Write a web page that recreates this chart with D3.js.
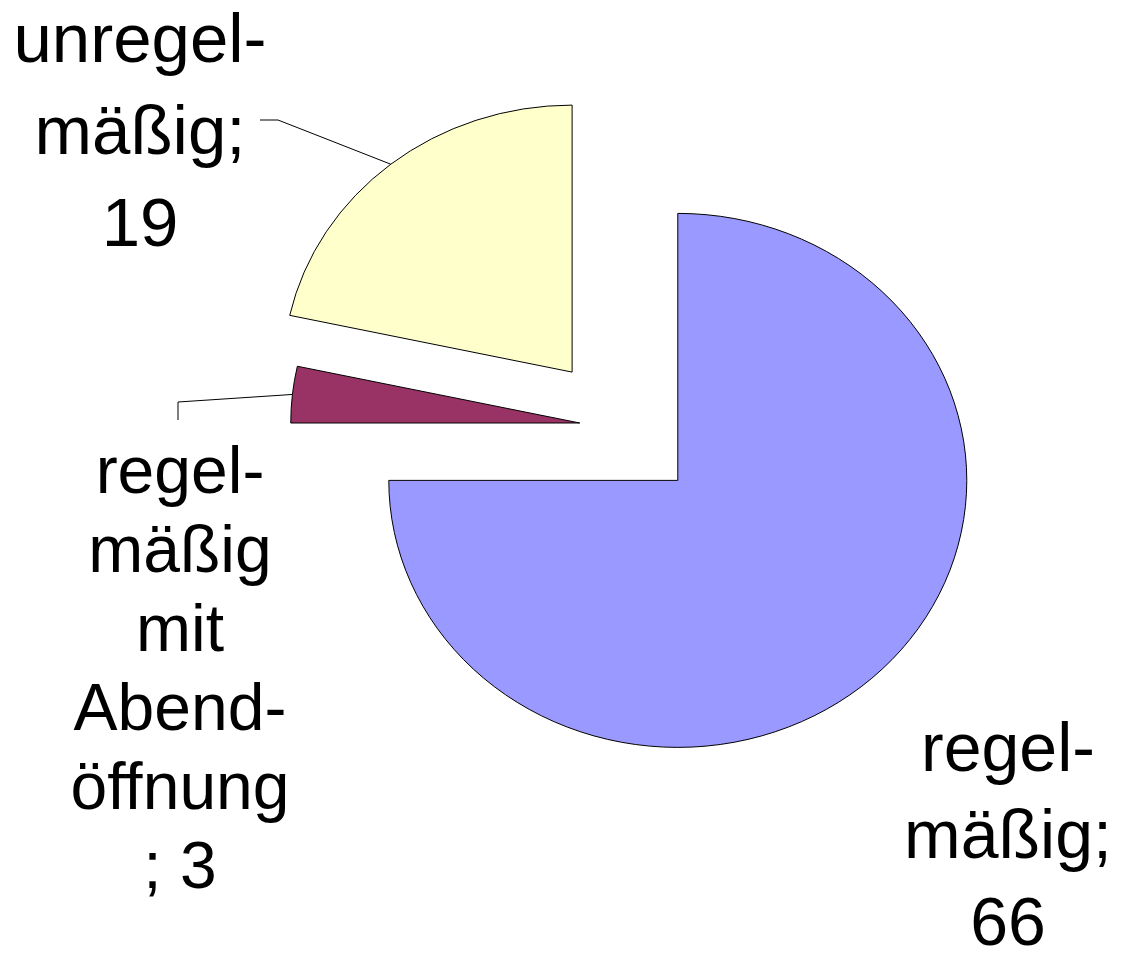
<!DOCTYPE html>
<html>
<head>
<meta charset="utf-8">
<script src="https://cdn.jsdelivr.net/npm/d3@7"></script>
<style>
  body { margin: 0; background: #fff; }
  text { font-family: "Liberation Sans", Arial, sans-serif; fill: #000; }
</style>
</head>
<body>
<svg id="chart" width="1122" height="954"></svg>
<script>
  // data
  var categories = ['regelmäßig', 'regelmäßig mit Abendöffnung', 'unregelmäßig'];
  var values = [66, 3, 19];
  var colors = ['#9999ff', '#993366', '#ffffcc'];
  // label lines as wrapped in the picture, {v} = value
  var labelLines = [
    ['regel-', 'mäßig;', '{v}'],
    ['regel-', 'mäßig', 'mit', 'Abend-', 'öffnung', '; {v}'],
    ['unregel-', 'mäßig;', '{v}']
  ];

  // layout
  var cx = 620, cy = 427;
  var radius = 267;
  var sx = 289 / 267;           // pie is a bit wider than tall
  var explode = [75.5, 37.4, 70.5];
  var labelPos = [[1008, 771], [180, 493], [140, 62]];
  var lineStep = [87, 79, 92];
  var fontSize = [68, 66, 69];
  // leader elbows (only for the small slices)
  var leaders = [null, [[178, 402], [178, 420]], [[278, 120], [260, 120]]];

  var svg = d3.select('#chart');

  var pie = d3.pie().sort(null).value(function(d) { return d; });
  var arc = d3.arc().innerRadius(0).outerRadius(radius);
  var arcs = pie(values);

  function offset(d, i) {
    var mid = (d.startAngle + d.endAngle) / 2;
    return [cx + sx * explode[i] * Math.sin(mid), cy - explode[i] * Math.cos(mid)];
  }

  var slices = svg.selectAll('.slice')
    .data(arcs)
    .enter()
    .append('g')
    .attr('class', 'slice')
    .attr('transform', function(d, i) {
      var o = offset(d, i);
      return 'translate(' + o[0] + ',' + o[1] + ')';
    });

  slices.append('path')
    .attr('d', arc)
    .attr('transform', 'scale(' + sx + ',1)')
    .attr('fill', function(d, i) { return colors[i]; })
    .attr('stroke', '#000')
    .attr('stroke-width', 1)
    .attr('vector-effect', 'non-scaling-stroke');

  // leader lines from the edge of the slice
  arcs.forEach(function(d, i) {
    if (!leaders[i]) return;
    var o = offset(d, i);
    var mid = (d.startAngle + d.endAngle) / 2;
    var start = [o[0] + sx * radius * Math.sin(mid), o[1] - radius * Math.cos(mid)];
    var pts = [start].concat(leaders[i]);
    svg.append('path')
      .attr('d', d3.line()(pts))
      .attr('fill', 'none')
      .attr('stroke', '#000')
      .attr('stroke-width', 1);
  });

  // labels
  labelLines.forEach(function(lines, i) {
    var t = svg.append('text')
      .attr('text-anchor', 'middle')
      .attr('font-size', fontSize[i]);
    lines.forEach(function(l, j) {
      t.append('tspan')
        .attr('x', labelPos[i][0])
        .attr('y', labelPos[i][1] + j * lineStep[i])
        .text(l.replace('{v}', values[i]));
    });
  });
</script>
</body>
</html>
